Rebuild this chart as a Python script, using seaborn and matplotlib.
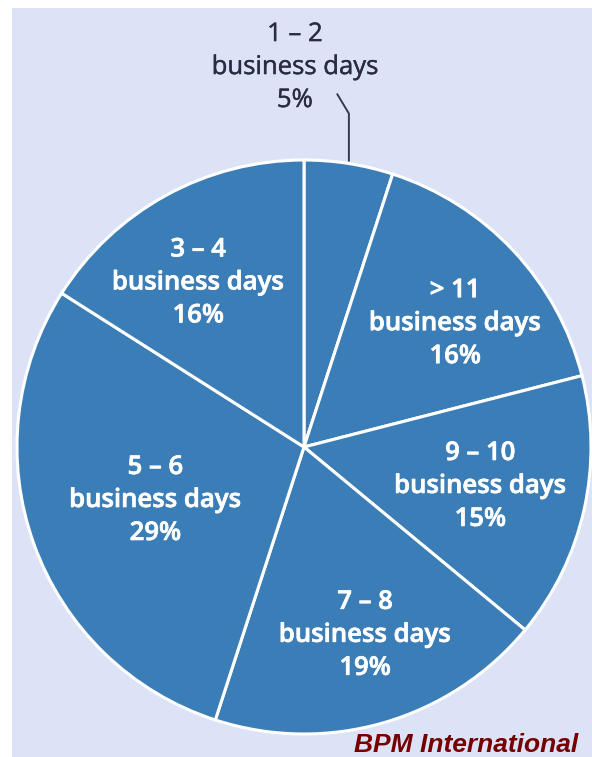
import numpy as np
import matplotlib
matplotlib.use("Agg")
import matplotlib.pyplot as plt
import seaborn as sns
from matplotlib.patches import Rectangle
import matplotlib.patheffects as pe

# ---- data ----
categories = ["1 – 2", "> 11", "9 – 10", "7 – 8", "5 – 6", "3 – 4"]
shares = [5, 16, 15, 19, 29, 16]
unit_label = "business days"
source_text = "BPM International"

sns.set_style("white")
plt.rcParams["font.family"] = ["Open Sans", "DejaVu Sans"]

slice_color = "#3b7db6"
bg_color = "#dce3f6"
W, H = 592, 757
fig = plt.figure(figsize=(W / 100, H / 100), dpi=100)
fig.patch.set_facecolor("white")

ax = fig.add_axes([0, 0, 1, 1])
ax.patch.set_alpha(0)

cx, cy, R = 304, H - 447, 287
wedges, _ = ax.pie(shares, colors=[slice_color] * len(shares), startangle=90,
                   counterclock=False, center=(cx, cy), radius=R,
                   wedgeprops=dict(edgecolor="white", linewidth=2.2),
                   frame=True)
ax.add_patch(Rectangle((12, 0), W - 12, H - 8, facecolor=bg_color,
                       edgecolor="none", zorder=-5))
ax.set_xlim(0, W)
ax.set_ylim(0, H)
ax.set_aspect("equal")
ax.axis("off")

label_dist = [None, 0.68, 0.63, 0.69, 0.55, 0.68]
label_turn = [0, -4, 0, 1.8, 0, 4]
thick = [pe.withStroke(linewidth=0.5, foreground="white")]
for w, cat, pct, d, t in zip(wedges, categories, shares, label_dist, label_turn):
    mid = np.deg2rad((w.theta1 + w.theta2) / 2 + t)
    txt = f"{cat}\n{unit_label}\n{pct}%"
    if d is None:
        # outside label with leader line
        ex, ey = cx + R * np.cos(mid), cy + R * np.sin(mid)
        ax.plot([ex, ex, ex - 12], [ey + 2, ey + 50, ey + 70],
                color="#3a3a4a", lw=1.4, solid_capstyle="butt")
        ax.text(ex - 54, ey + 96, txt, ha="center", va="center",
                color="#2b2b45", fontsize=18.5, linespacing=1.42,
                path_effects=[pe.withStroke(linewidth=0.3, foreground="#2b2b45")])
    else:
        tx, ty = cx + d * R * np.cos(mid), cy + d * R * np.sin(mid)
        ax.text(tx, ty, txt, ha="center", va="center", color="white",
                fontsize=18.5, fontweight="semibold", linespacing=1.42,
                path_effects=thick)

fig.text(578 / W, 5 / H, source_text, ha="right", va="baseline",
         family=["Liberation Sans", "DejaVu Sans"], fontsize=19,
         fontweight="bold", fontstyle="italic", color="#760000")

fig.savefig("out.png", dpi=100)
